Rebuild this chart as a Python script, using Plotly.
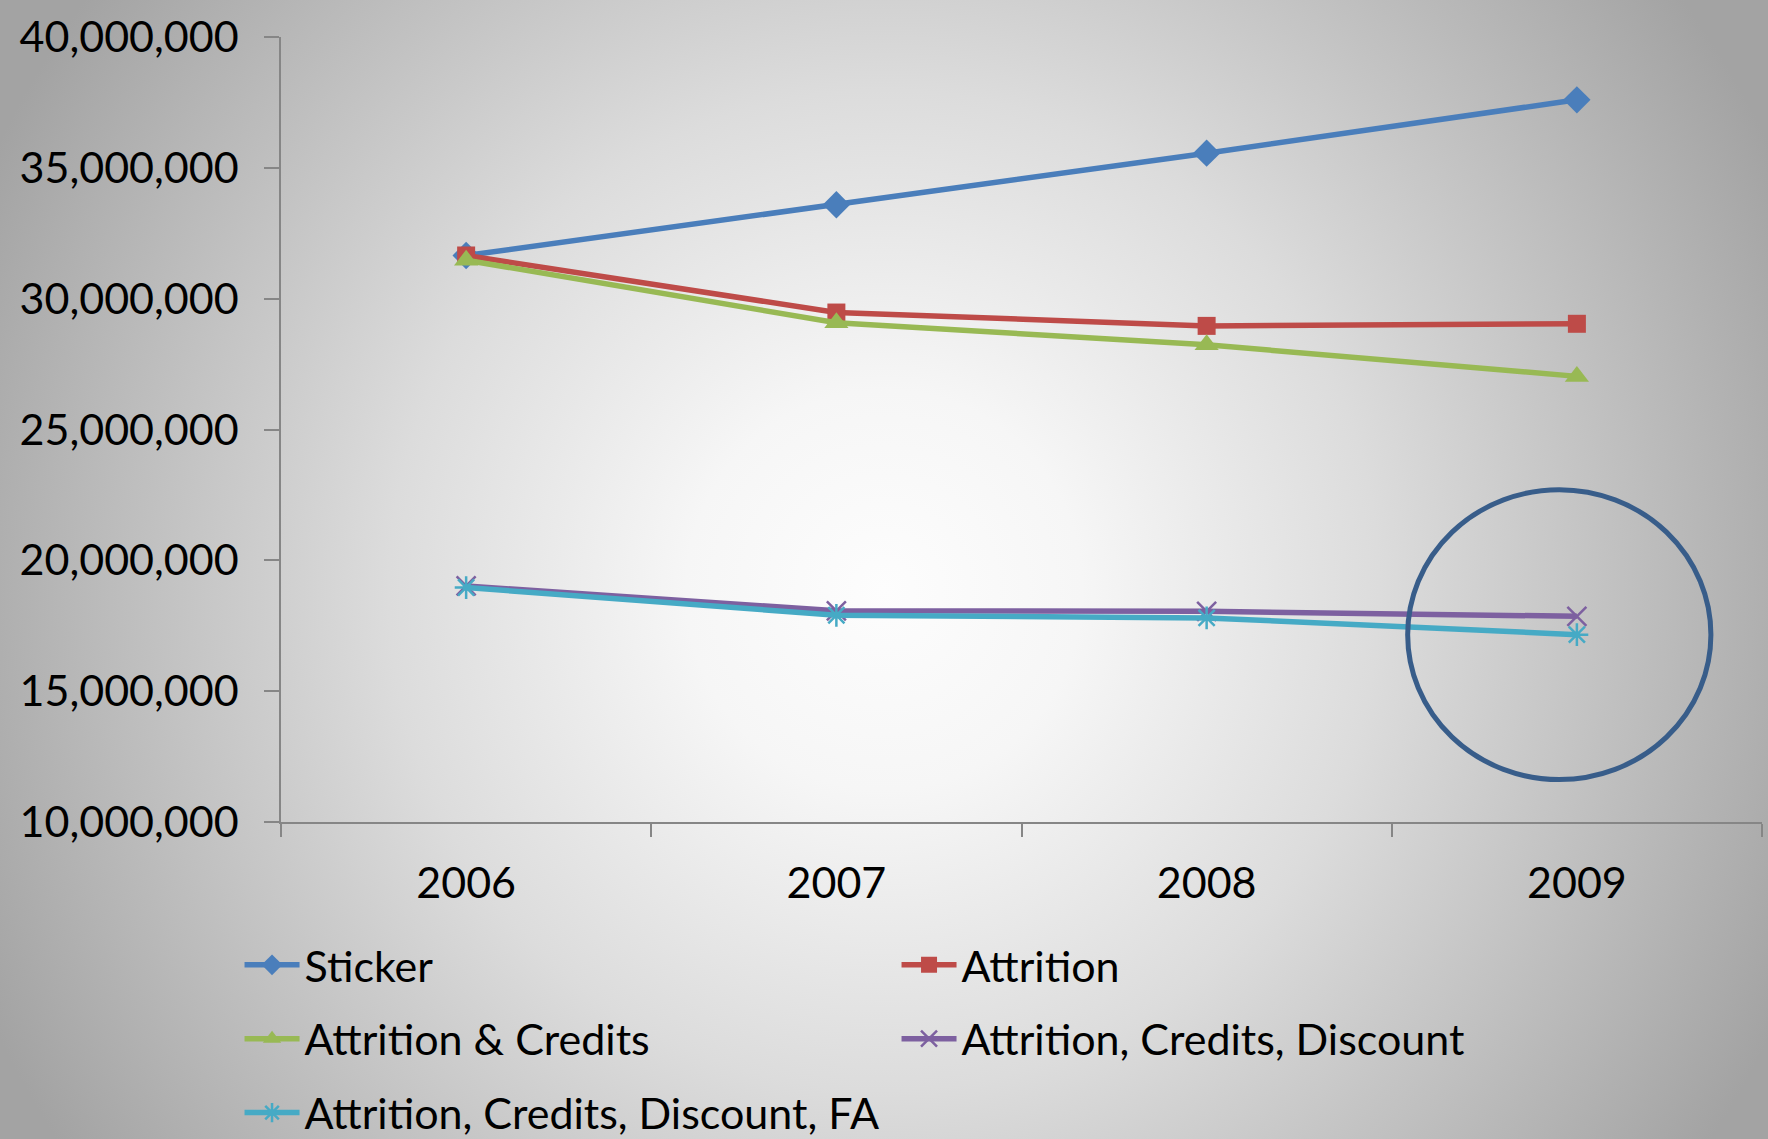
import base64
import plotly.graph_objects as go

years = ["2006", "2007", "2008", "2009"]
sticker = [31650000, 33590000, 35560000, 37600000]
attrition = [31650000, 29470000, 28960000, 29040000]
attr_credits = [31470000, 29080000, 28240000, 27030000]
attr_cred_disc = [19020000, 18070000, 18050000, 17860000]
attr_cred_disc_fa = [18960000, 17900000, 17800000, 17160000]

series_names = ["Sticker", "Attrition", "Attrition & Credits",
                "Attrition, Credits, Discount", "Attrition, Credits, Discount, FA"]
y_ticks = [10000000, 15000000, 20000000, 25000000, 30000000, 35000000, 40000000]

W, H = 1768, 1139
ML, MR, MT, MB = 281, 6, 37, 317
PW, PH = W - ML - MR, H - MT - MB

svg = f"""<svg xmlns='http://www.w3.org/2000/svg' width='{W}' height='{H}' viewBox='0 0 {W} {H}' preserveAspectRatio='none'>
<defs><radialGradient id='g' gradientUnits='userSpaceOnUse' cx='0' cy='0' r='1' gradientTransform='translate(884 590) scale(990 1000)'>
<stop offset='0' stop-color='#fdfdfd'/><stop offset='0.2' stop-color='#f6f6f6'/>
<stop offset='0.5' stop-color='#dcdcdc'/><stop offset='1' stop-color='#a3a3a3'/></radialGradient></defs>
<rect x='0' y='0' width='{W}' height='{H}' fill='url(#g)'/></svg>"""
bg_uri = "data:image/svg+xml;base64," + base64.b64encode(svg.encode()).decode()

FONT = "Lato"
FS = 43

fig = go.Figure()
styles = [
    dict(color="#4A7EBB", symbol="diamond", size=21, lw=0),
    dict(color="#BE4B48", symbol="square", size=18, lw=0),
    dict(color="#98B954", symbol="triangle-up", size=21, lw=0),
    dict(color="#7D60A0", symbol="x-thin-open", size=19, lw=2.5),
    dict(color="#46AAC5", symbol="asterisk-open", size=19, lw=2.5),
]
for i, (name, vals, st) in enumerate(zip(series_names,
                          [sticker, attrition, attr_credits, attr_cred_disc, attr_cred_disc_fa],
                          styles)):
    mk = dict(symbol=st["symbol"], size=st["size"], color=st["color"])
    if st["lw"]:
        mk["line"] = dict(color=st["color"], width=st["lw"])
    fig.add_trace(go.Scatter(x=years, y=vals, name=name, mode="lines+markers",
                             legendgroup=f"g{i}",
                             line=dict(color=st["color"], width=5.5), marker=mk))

fig.add_shape(type="circle", xref="x", yref="y", x0=2.543, x1=3.362,
              y0=11620000, y1=22700000, line=dict(color="#385D8A", width=5),
              fillcolor="rgba(0,0,0,0)")

fig.add_layout_image(dict(source=bg_uri, xref="paper", yref="paper",
                          x=-ML / PW, y=1 + MT / PH, sizex=W / PW, sizey=H / PH,
                          xanchor="left", yanchor="top", sizing="stretch", layer="below"))

fig.update_layout(
    width=W, height=H,
    margin=dict(l=ML, r=MR, t=MT, b=MB, pad=0, autoexpand=False),
    paper_bgcolor="#c8c8c8", plot_bgcolor="rgba(0,0,0,0)",
    font=dict(family=FONT, size=FS, color="#000000"),
    showlegend=True,
    legend=dict(orientation="h", x=-0.028, xanchor="left", y=-0.138, yanchor="top",
                entrywidth=587, tracegroupgap=15,
                font=dict(family=FONT, size=FS, color="#000000"),
                bgcolor="rgba(0,0,0,0)", itemwidth=55, traceorder="grouped"),
    xaxis=dict(type="category", range=[-0.5, 3.5], tickson="boundaries",
               ticks="outside", ticklen=13, tickcolor="#868686", tickwidth=1.5,
               showline=True, linecolor="#868686", linewidth=2, showgrid=False,
               zeroline=False, ticklabelstandoff=22,
               tickfont=dict(family=FONT, size=FS, color="#000000")),
    yaxis=dict(range=[10000000, 40000000], tickvals=y_ticks, tickformat=",d",
               ticks="outside", ticklen=15, tickcolor="#868686", tickwidth=1.5,
               showline=True, linecolor="#868686", linewidth=1.5, showgrid=False,
               zeroline=False, ticklabelstandoff=17,
               tickfont=dict(family=FONT, size=FS, color="#000000")),
)

fig.write_html("out.html", config={"displayModeBar": False},
               post_script="document.body.style.margin='0';document.body.style.overflow='hidden';")
